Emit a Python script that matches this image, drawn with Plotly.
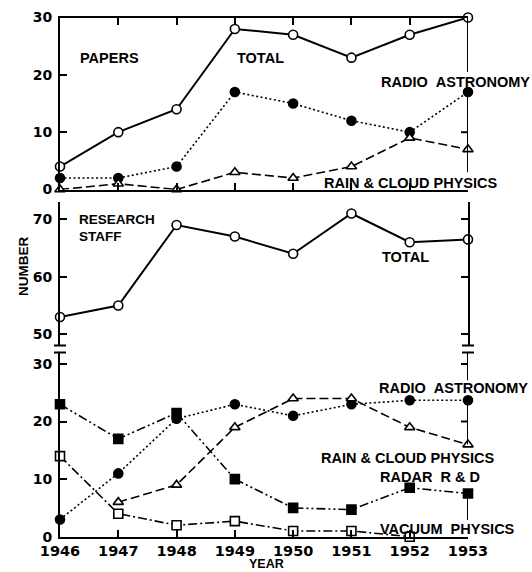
import plotly.graph_objects as go

# ---- data -------------------------------------------------------------
years = [1946, 1947, 1948, 1949, 1950, 1951, 1952, 1953]

# papers published
papers_total = [4, 10, 14, 28, 27, 23, 27, 30]
papers_radio_astronomy = [2, 2, 4, 17, 15, 12, 10, 17]
papers_rain_cloud = [0, 1, 0, 3, 2, 4, 9, 7]

# research staff
staff_total = [53, 55, 69, 67, 64, 71, 66, 66.5]
staff_radio_astronomy = [3, 11, 20.5, 23, 21, 23, 23.7, 23.7]
staff_rain_cloud = [None, 6, 9, 19, 24, 24, 19, 16]
staff_radar = [23, 17, 21.5, 10, 5, 4.7, 8.5, 7.5]
staff_vacuum = [14, 4, 2, 2.7, 1, 1, 0, None]

top_ticks = [0, 10, 20, 30]
mid_ticks = [50, 60, 70]
bot_ticks = [0, 10, 20, 30]

# ---- geometry helpers (pixel -> paper fraction) ------------------------
W, H = 532, 572


def fx(p):
    return p / W


def fy(p):
    return 1 - p / H


X0, X1 = 60, 468
BLACK = "black"
TICK_FONT = dict(family="DejaVu Sans", size=14, color=BLACK, weight="bold")
LABEL_FONT = dict(family="Liberation Sans", size=14.5, color=BLACK, weight="bold")

fig = go.Figure()


def add_series(y, xa, ya, dash, symbol, fill, width=1.6, size=9):
    fig.add_trace(go.Scatter(
        x=years, y=y, xaxis=xa, yaxis=ya, mode="lines+markers",
        line=dict(color=BLACK, width=width, dash=dash),
        marker=dict(symbol=symbol, size=size, color=fill,
                    line=dict(color=BLACK, width=1.6)),
        cliponaxis=False, showlegend=False, connectgaps=False,
    ))


DOT = "2px,2.5px"
DASH = "9px,4px"
DASH_DOT_DOT = "9px,3px,2px,3px,2px,3px"
DASH_DOT = "9px,3px,2px,3px"

# papers panel
add_series(papers_total, "x", "y", "solid", "circle", "white", width=2)
add_series(papers_radio_astronomy, "x", "y", DOT, "circle", BLACK)
add_series(papers_rain_cloud, "x", "y", DASH, "triangle-up", "white")

# staff total panel
add_series(staff_total, "x2", "y2", "solid", "circle", "white", width=2)

# staff by group panel
add_series(staff_radio_astronomy, "x3", "y3", DOT, "circle", BLACK)
add_series(staff_rain_cloud, "x3", "y3", DASH, "triangle-up", "white")
add_series(staff_radar, "x3", "y3", DASH_DOT_DOT, "square", BLACK)
add_series(staff_vacuum, "x3", "y3", DASH_DOT, "square", "white")

xdom = [fx(X0), fx(X1)]
common_x = dict(domain=xdom, range=[years[0], years[-1]], tickvals=years,
                showgrid=False, zeroline=False, fixedrange=True,
                automargin=False)
common_y = dict(showgrid=False, zeroline=False, linecolor=BLACK, linewidth=2,
                ticks="inside", ticklen=7, tickwidth=2, tickcolor=BLACK,
                tickfont=TICK_FONT, showline=True, automargin=False,
                ticklabelstandoff=3)

fig.update_layout(
    width=W, height=H, margin=dict(l=0, r=0, t=0, b=0),
    paper_bgcolor="white", plot_bgcolor="white",
    xaxis=dict(**common_x, anchor="y", showline=True, linecolor=BLACK,
               linewidth=2, mirror="ticks", ticks="inside", ticklen=7,
               tickwidth=2, tickcolor=BLACK, showticklabels=False),
    yaxis=dict(**common_y, anchor="x", domain=[fy(189.5), fy(17.5)],
               range=[0, 30], tickvals=top_ticks),
    xaxis2=dict(**common_x, anchor="y2", visible=False),
    yaxis2=dict(**common_y, anchor="x2", domain=[fy(345.8), fy(202)],
                range=[48, 73], tickvals=mid_ticks, mirror="ticks"),
    xaxis3=dict(**common_x, anchor="y3", showline=True, linecolor=BLACK,
                linewidth=2, ticks="inside", ticklen=7, tickwidth=2,
                tickcolor=BLACK, tickfont=dict(TICK_FONT, size=14.5),
                ticklabelstandoff=0),
    yaxis3=dict(**common_y, anchor="x3", domain=[fy(536.7), fy(352.5)],
                range=[0, 32], tickvals=bot_ticks),
)

# right-hand frame pieces, interrupted where the series labels sit
shapes = []
right_segments = [("y", 30, 20.5), ("y", 17, 3), ("y3", 32, 27.2),
                  ("y3", 23.7, 16), ("y3", 7.5, 2.9)]
for yref, a, b in right_segments:
    shapes.append(dict(type="line", xref="x", yref=yref, x0=years[-1],
                       x1=years[-1], y0=a, y1=b,
                       line=dict(color=BLACK, width=2)))
right_ticks = [("y", 10), ("y3", 30), ("y3", 20)]
for yref, v in right_ticks:
    shapes.append(dict(type="line", xref="paper", yref=yref,
                       x0=fx(X1 - 7), x1=fx(X1), y0=v, y1=v,
                       line=dict(color=BLACK, width=2)))
# axis-break marks between the two staff panels
for xc in (X0, X1):
    for yp in (345.5, 352.5):
        shapes.append(dict(type="line", xref="paper", yref="paper",
                           x0=fx(xc - 6), x1=fx(xc + 6), y0=fy(yp), y1=fy(yp),
                           line=dict(color=BLACK, width=2)))
fig.update_layout(shapes=shapes)

NB = "\u00a0"
labels = [
    ("PAPERS", 79, 58, 14.5),
    ("TOTAL", 236, 58, 14.5),
    ("RADIO" + NB * 2 + "ASTRONOMY", 380, 82, 14.5),
    ("RAIN & CLOUD PHYSICS", 323, 183, 14.5),
    ("RESEARCH", 78, 220, 13.5),
    ("STAFF", 78, 236, 13.5),
    ("TOTAL", 381, 257, 14.5),
    ("RADIO" + NB * 2 + "ASTRONOMY", 378, 388, 14.5),
    ("RAIN & CLOUD PHYSICS", 320, 458, 14.5),
    ("RADAR" + NB + " R & D", 379, 477, 14.5),
    ("VACUUM" + NB + " PHYSICS", 379, 529, 14.5),
]
annotations = []
for text, xp, yp, fs in labels:
    annotations.append(dict(text=text, xref="paper", yref="paper",
                            x=fx(xp), y=fy(yp), xanchor="left",
                            yanchor="middle", align="left", showarrow=False,
                            borderpad=0, font=dict(LABEL_FONT, size=fs)))
annotations.append(dict(text="NUMBER", xref="paper", yref="paper",
                        x=fx(23), y=fy(267), textangle=-90, showarrow=False,
                        xanchor="center", yanchor="middle",
                        font=dict(LABEL_FONT, size=13.5)))
annotations.append(dict(text="YEAR", xref="paper", yref="paper",
                        x=fx(266), y=fy(564), showarrow=False,
                        xanchor="center", yanchor="middle", borderpad=0,
                        font=dict(LABEL_FONT, size=12.5)))
fig.update_layout(annotations=annotations)

fig.write_html("out.html")
